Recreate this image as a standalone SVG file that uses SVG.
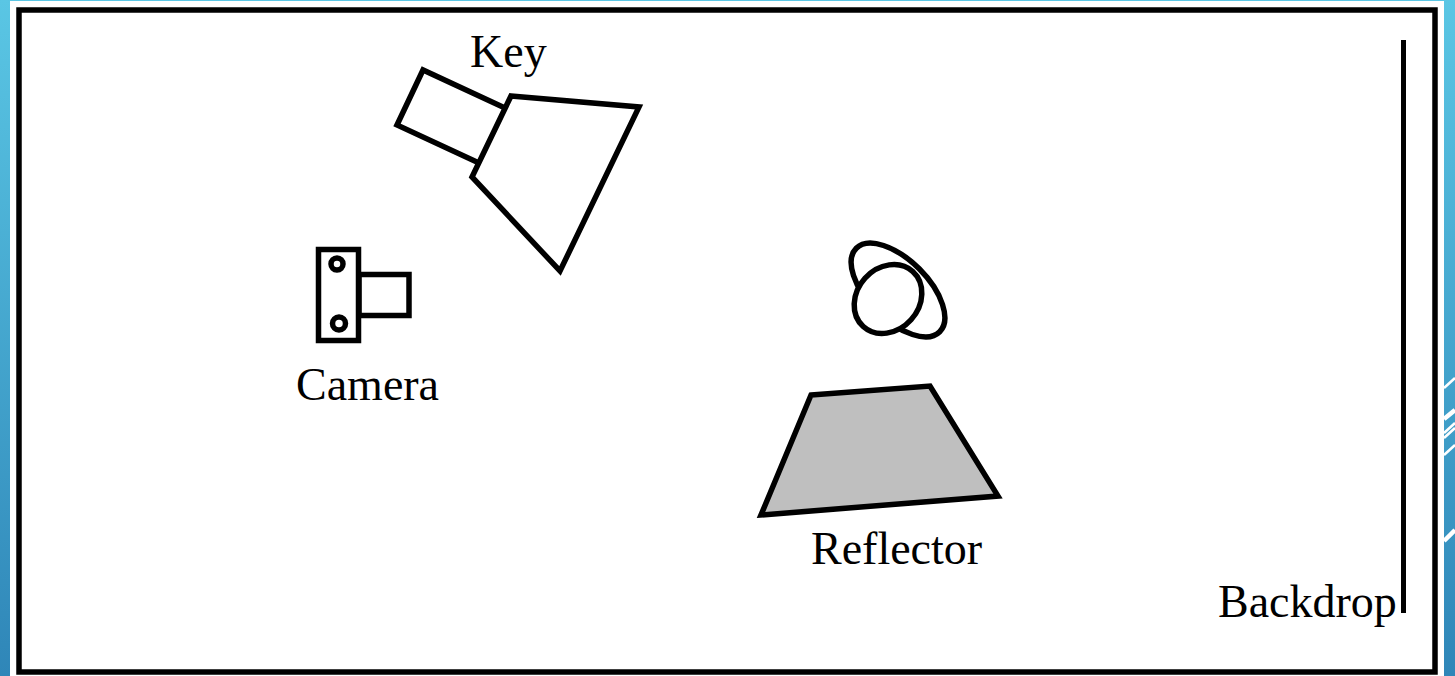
<svg xmlns="http://www.w3.org/2000/svg" width="1455" height="676" viewBox="0 0 1455 676">
<style>
.s{fill:#fff;stroke:#000;stroke-width:5.500;stroke-linejoin:miter}
.t{font-family:"Liberation Serif",serif;font-size:46px;fill:#000}
.w{stroke:#fff;fill:none}
</style>
<defs><linearGradient id="g" x1="0" y1="0" x2="0" y2="1"><stop offset="0" stop-color="#5ac6e4"/><stop offset="1" stop-color="#2f86b8"/></linearGradient></defs>
<rect width="1455" height="676" fill="url(#g)"/>
<rect x="10" y="1" width="1434" height="675" fill="#fff"/>
<g id="accents">
<path class="w" stroke-width="2.500" d="M1444 388L1455 378M1444 433L1455 423M1444 438L1455 428M1444 455L1455 445"/>
<path class="w" stroke-width="4.500" d="M1444 419L1455 410M1444 541L1455 530"/>
</g>
<rect id="frame" x="19" y="10" width="1416" height="662" fill="#fff" stroke="#000" stroke-width="5.500"/>
<g id="backdrop">
<rect x="1401" y="40" width="5" height="573" fill="#000"/>
<text class="t" x="1218" y="617">Backdrop</text>
</g>
<g id="key">
<path class="s" d="M505 108L423 70L397 125L479 163"/>
<path class="s" d="M511 96L639 107L560 271L472 177Z"/>
<text class="t" x="470" y="67">Key</text>
</g>
<g id="camera">
<rect class="s" x="359" y="274.500" width="50" height="41"/>
<rect class="s" x="318.500" y="249.500" width="40" height="91"/>
<circle class="s" cx="337" cy="264" r="6"/>
<circle class="s" cx="339" cy="323.500" r="6.500"/>
<text class="t" x="296" y="400">Camera</text>
</g>
<g id="subject">
<ellipse class="s" cx="898" cy="290" rx="59" ry="30" transform="rotate(45 898 290)"/>
<ellipse class="s" cx="888" cy="299" rx="37" ry="31" transform="rotate(-48 888 299)"/>
</g>
<g id="reflector">
<path d="M811 395L930 386L998 496L761 515Z" fill="#bfbfbf" stroke="#000" stroke-width="5.500"/>
<text class="t" x="811" y="564">Reflector</text>
</g>
</svg>
